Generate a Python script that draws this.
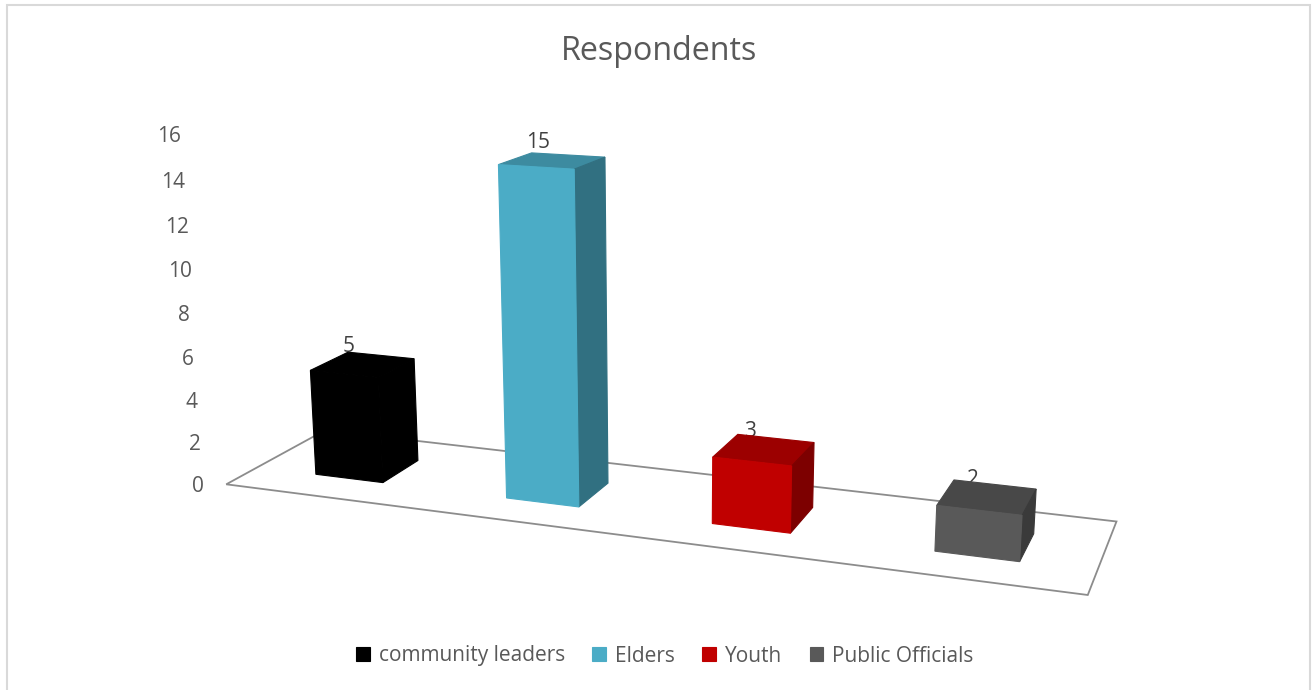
import numpy as np, pandas as pd, seaborn as sns
import matplotlib
matplotlib.use("Agg")
import matplotlib.pyplot as plt
from matplotlib.patches import Polygon, Rectangle
from matplotlib.transforms import Transform, IdentityTransform

groups = ["community leaders", "Elders", "Youth", "Public Officials"]
values = [5, 15, 3, 2]
ticks = list(range(0, 18, 2))
colors = ["#000000", "#4BACC6", "#C00000", "#595959"]

# bar geometry in category units, and the camera of the 3-D look
W = 0.36; Y0 = 0.30; Y1 = 0.69
H_PX = 690
P = np.array([[178.3059, 131.7111, -2.119888, 319.6835],
              [5.687631, -13.88258, -22.6939, 496.3091],
              [-0.03782685, 0.09565988, -0.003164479, 1.0]])

def project(X, Y, Z):
    q = P @ np.array([X, Y, Z, 1.0])
    return q[0] / q[2], H_PX - q[1] / q[2]

class Plane(Transform):
    """Maps (category, value) on the plane of depth y to display pixels."""
    input_dims = output_dims = 2
    is_affine = False
    def __init__(self, y):
        super().__init__()
        self.y = y
    def transform_non_affine(self, xy):
        xy = np.asarray(xy, float)
        return np.array([project(a, self.y, c) for a, c in xy])

sns.set_theme(style="white")
plt.rcParams['font.family'] = ['Open Sans', 'DejaVu Sans']
fig = plt.figure(figsize=(13.12, 6.9), dpi=100)
ax = fig.add_axes([0, 0, 1, 1])
df = pd.DataFrame({"group": groups, "value": values})
sns.barplot(data=df, x="group", y="value", hue="group", palette=colors, width=W,
            saturation=1, ax=ax, legend=True, zorder=3)
handles, labels = ax.get_legend_handles_labels()
ax.get_legend().remove()
ax.set_axis_off()
px = IdentityTransform()
plane = Plane(Y0)
for bar in ax.patches:
    bar.set_transform(plane)
    bar.set_clip_on(False)
    bar.set_edgecolor(bar.get_facecolor())
    bar.set_linewidth(0.8)

def face(pts, color, z=2):
    ax.add_patch(Polygon([project(*q) for q in pts], closed=True, transform=px,
                         facecolor=color, edgecolor=color, lw=0.8, clip_on=False, zorder=z))

# floor
fl = [(-.5, 0, 0), (3.5, 0, 0), (3.5, 1, 0), (-.5, 1, 0)]
ax.add_patch(Polygon([project(*q) for q in fl], closed=True, transform=px, facecolor="none",
                     edgecolor="#8C8C8C", lw=1.3, clip_on=False, zorder=1))

for i, (v, c) in enumerate(zip(values, colors)):
    xl, xr = i - W / 2, i + W / 2
    rgb = np.array(matplotlib.colors.to_rgb(c))
    face([(xl, Y0, v), (xr, Y0, v), (xr, Y1, v), (xl, Y1, v)], rgb * 0.81)
    face([(xr, Y0, 0), (xr, Y1, 0), (xr, Y1, v), (xr, Y0, v)], rgb * 0.65)
    u, w = project(i, (Y0 + Y1) / 2, v)
    ax.text(u - 14, w + 18, str(v), transform=px, ha="center", va="center", fontsize=15,
            color="#404040", zorder=1.5)

for t in ticks:
    u, w = project(-.5, 0, t)
    ax.text(u - 28 - 0.37 * t, w - 2, str(t), transform=px, ha="center", va="center",
            fontsize=15, color="#595959")

fig.text(659 / 1312, 1 - 51 / 690, "Respondents", ha="center", va="center", fontsize=23.2, color="#595959")
ax.legend(handles, labels, loc="center", bbox_to_anchor=(665 / 1312, 1 - 656 / 690),
          bbox_transform=fig.transFigure, ncols=4, frameon=False, fontsize=15, labelcolor="#595959",
          handlelength=0.65, handleheight=0.65, handletextpad=0.45, columnspacing=1.3)
fig.add_artist(Rectangle((7, -10), 1303, 690 - 5 + 10, transform=px, fill=False, edgecolor="#D9D9D9", lw=1.5))
fig.savefig("out.png", dpi=100)
